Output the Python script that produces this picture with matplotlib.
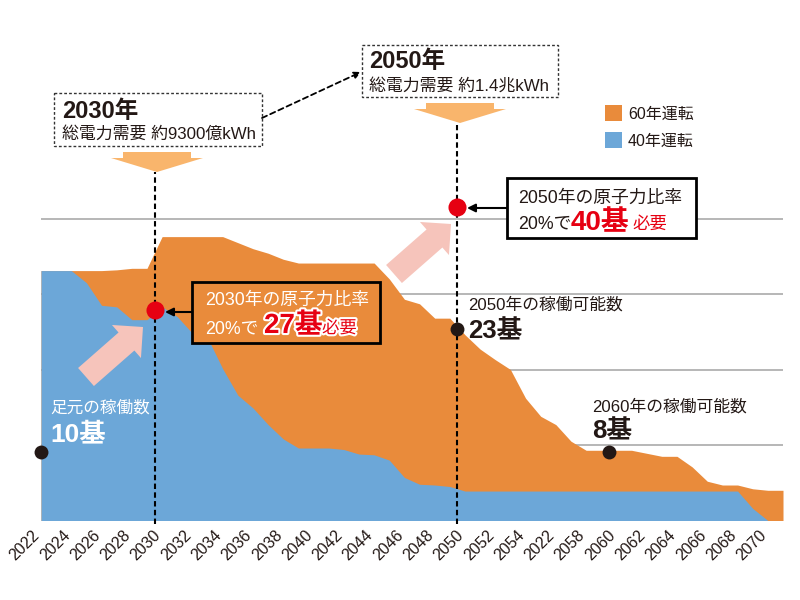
import matplotlib.pyplot as plt
import matplotlib.patches as mpatches
import matplotlib.patheffects as pe
from matplotlib.transforms import Affine2D, ScaledTranslation
import numpy as np

plt.rcParams["font.family"] = ["Liberation Sans", "Noto Sans CJK JP"]

# operable reactors per year
YEARS = list(range(2022, 2072))
SIXTY_YEAR = [
    33.1, 33.1, 33.1, 33.1, 33.1, 33.2, 33.4, 33.4, 37.6, 37.6,
    37.6, 37.6, 37.6, 36.8, 36.0, 35.4, 34.6, 34.1, 34.1, 34.1,
    34.1, 34.1, 34.1, 32.0, 29.3, 28.7, 26.8, 26.8, 24.6, 22.7,
    21.3, 20.0, 16.2, 13.8, 12.7, 10.5, 9.3, 9.3, 9.3, 9.3,
    8.9, 8.5, 8.5, 7.1, 5.2, 4.7, 4.7, 4.2, 4.0, 4.0,
]
FORTY_YEAR = [
    33.1, 33.1, 33.1, 31.5, 28.5, 28.3, 26.6, 26.6, 28.3, 27.0,
    24.8, 24.2, 20.1, 16.6, 14.9, 12.7, 10.8, 9.6, 9.6, 9.6,
    9.4, 8.8, 8.7, 8.0, 5.7, 4.8, 4.7, 4.5, 3.9, 3.9,
    3.9, 3.9, 3.9, 3.9, 3.9, 3.9, 3.9, 3.9, 3.9, 3.9,
    3.9, 3.9, 3.9, 3.9, 3.9, 3.9, 3.9, 1.6, 0.0, 0.0,
]
TICK_YEARS = list(range(2022, 2071, 2))
TICK_LABELS = [
    "2022", "2024", "2026", "2028", "2030", "2032", "2034", "2036", "2038",
    "2040", "2042", "2044", "2046", "2048", "2050", "2052", "2054", "2022",
    "2058", "2060", "2062", "2064", "2066", "2068", "2070",
]
GRID_LEVELS = [10, 20, 30, 40]

# marked points: (year, level)
RED_POINTS = [(2030, 27.9), (2050, 41.5)]
BLACK_POINTS = [(2022.5, 9.1), (2050, 25.3), (2060, 9.1)]

ORANGE = "#E98B3B"
BLUE = "#6CA7D8"
RED = "#E60012"
PINK = "#F6C4BB"
PALE_ORANGE = "#F9B56C"
INK = "#231815"

W, H = 800, 600
fig = plt.figure(figsize=(W / 100, H / 100), dpi=100)
# pixel coordinates, origin top-left
PIX = Affine2D().scale(1, -1).translate(0, H)

# x: 2022 .. 2071.5 over 33.4 .. 783 px, y: 0 at 520.5 px, 7.55 px per unit
ax = fig.add_axes([33.4 / W, (H - 520.5) / H, 749.6 / W, 453 / H])
x = np.array(YEARS) + 0.5  # annual values drawn at mid-year
ax.hlines(GRID_LEVELS, x[0], x[-1], color="#a3a3a3", lw=1.1, zorder=0)
ax.fill_between(x, 0, SIXTY_YEAR, color=ORANGE, lw=0, zorder=1)
ax.fill_between(x, 0, FORTY_YEAR, color=BLUE, lw=0, zorder=2)

for yr, top in [(2030, 46.2), (2050, 52.4)]:
    ax.plot([yr, yr], [-0.5, top], color="black", lw=1.5,
            ls=(0, (2.6, 1.6)), clip_on=False, zorder=3)

for yr, lv in RED_POINTS:
    ax.plot(yr, lv, "o", ms=13, color=RED, mec="none", zorder=6, clip_on=False)
for yr, lv in BLACK_POINTS:
    ax.plot(yr, lv, "o", ms=10, color=INK, mec="none", zorder=6, clip_on=False)

ax.set_xticks(TICK_YEARS)
ax.set_xticklabels(TICK_LABELS, rotation=45, ha="right", va="center",
                   rotation_mode="anchor", fontsize=11.5, color=INK)
ax.tick_params(axis="x", length=0, pad=9)
shift = ScaledTranslation(4 / 100, 0, fig.dpi_scale_trans)
for lbl in ax.get_xticklabels():
    lbl.set_transform(lbl.get_transform() + shift)
ax.set_yticks([])
ax.set_xlim(YEARS[0], x[-1])
ax.set_ylim(0, 60)
for s in ax.spines.values():
    s.set_visible(False)


def put(px, py, s, **kw):
    kw.setdefault("color", INK)
    fig.text(px, py, s, transform=PIX, va="baseline", ha="left", **kw)


def rect(x0, y0, x1, y1, **kw):
    fig.add_artist(mpatches.Rectangle((x0, y0), x1 - x0, y1 - y0,
                                      transform=PIX, **kw))


def arrow(p0, p1, **kw):
    fig.add_artist(mpatches.FancyArrowPatch(p0, p1, transform=PIX,
                                            shrinkA=0, shrinkB=0, **kw))


# demand boxes
rect(54, 93, 262, 146, fc="white", ec="#333333", lw=1, ls=(0, (2, 1.5)))
put(62, 118, "2030年", fontsize=17, fontweight="bold")
put(62, 139, "総電力需要 約9300億kWh", fontsize=12.2)
rect(362, 45, 558, 97, fc="white", ec="#333333", lw=1, ls=(0, (2, 1.5)))
put(369, 68, "2050年", fontsize=17, fontweight="bold")
put(369, 91, "総電力需要 約1.4兆kWh", fontsize=12.2)
arrow((262, 118), (361, 72), arrowstyle="-|>", mutation_scale=10,
      lw=1.3, ls=(0, (3, 2)), color="black")

# pale orange down arrows
for cx, top, tip in [(157, 152, 172), (460, 103, 123)]:
    pts = [(cx - 34, top), (cx + 34, top), (cx + 34, top + 6), (cx + 46, top + 6),
           (cx, tip), (cx - 46, top + 6), (cx - 34, top + 6)]
    fig.add_artist(mpatches.Polygon(pts, closed=True, transform=PIX,
                                    fc=PALE_ORANGE, ec="none"))

# pink block arrows
for (x0, y0), (x1, y1) in [((86, 377), (143, 327)), ((394, 274), (451, 224))]:
    fig.add_artist(mpatches.FancyArrow(x0, y0, x1 - x0, y1 - y0, width=24,
                                       head_width=44, head_length=22,
                                       length_includes_head=True,
                                       transform=PIX, fc=PINK, ec="none"))

# legend
rect(605, 105, 622, 121, fc=ORANGE, ec="none")
put(628, 119, "60年運転", fontsize=11.5)
rect(605, 132, 622, 148, fc=BLUE, ec="none")
put(628, 146, "40年運転", fontsize=11.5)

halo = [pe.withStroke(linewidth=3, foreground="white")]

# 2030 callout
rect(192, 282, 380, 343, fc=ORANGE, ec="black", lw=2)
put(205, 305, "2030年の原子力比率", fontsize=12.8, color="white")
put(205, 333, "20%で", fontsize=12.8, color="white")
put(264, 333, "27基", fontsize=20, fontweight="bold", color=RED, path_effects=halo)
put(322, 333, "必要", fontsize=12.5, color=RED, path_effects=halo)
arrow((192, 312), (165, 312), arrowstyle="-|>", mutation_scale=12, lw=1.5,
      color="black")

# 2050 callout
rect(507, 178, 696, 238, fc="white", ec="black", lw=2)
put(518, 203, "2050年の原子力比率", fontsize=12.8)
put(518, 228, "20%で", fontsize=12.8)
put(571, 230, "40基", fontsize=20, fontweight="bold", color=RED)
put(632, 229, "必要", fontsize=12.5, color=RED)
arrow((507, 208), (467, 208), arrowstyle="-|>", mutation_scale=12, lw=1.5,
      color="black")

# operable counts
put(50, 413, "足元の稼働数", fontsize=12, color="white")
put(50, 441, "10基", fontsize=19, fontweight="bold", color="white")
put(468, 310, "2050年の稼働可能数", fontsize=12.1)
put(468, 338, "23基", fontsize=18.5, fontweight="bold")
put(592, 412, "2060年の稼働可能数", fontsize=12.1)
put(592, 438, "8基", fontsize=18.5, fontweight="bold")

fig.savefig("out.png", dpi=100)
